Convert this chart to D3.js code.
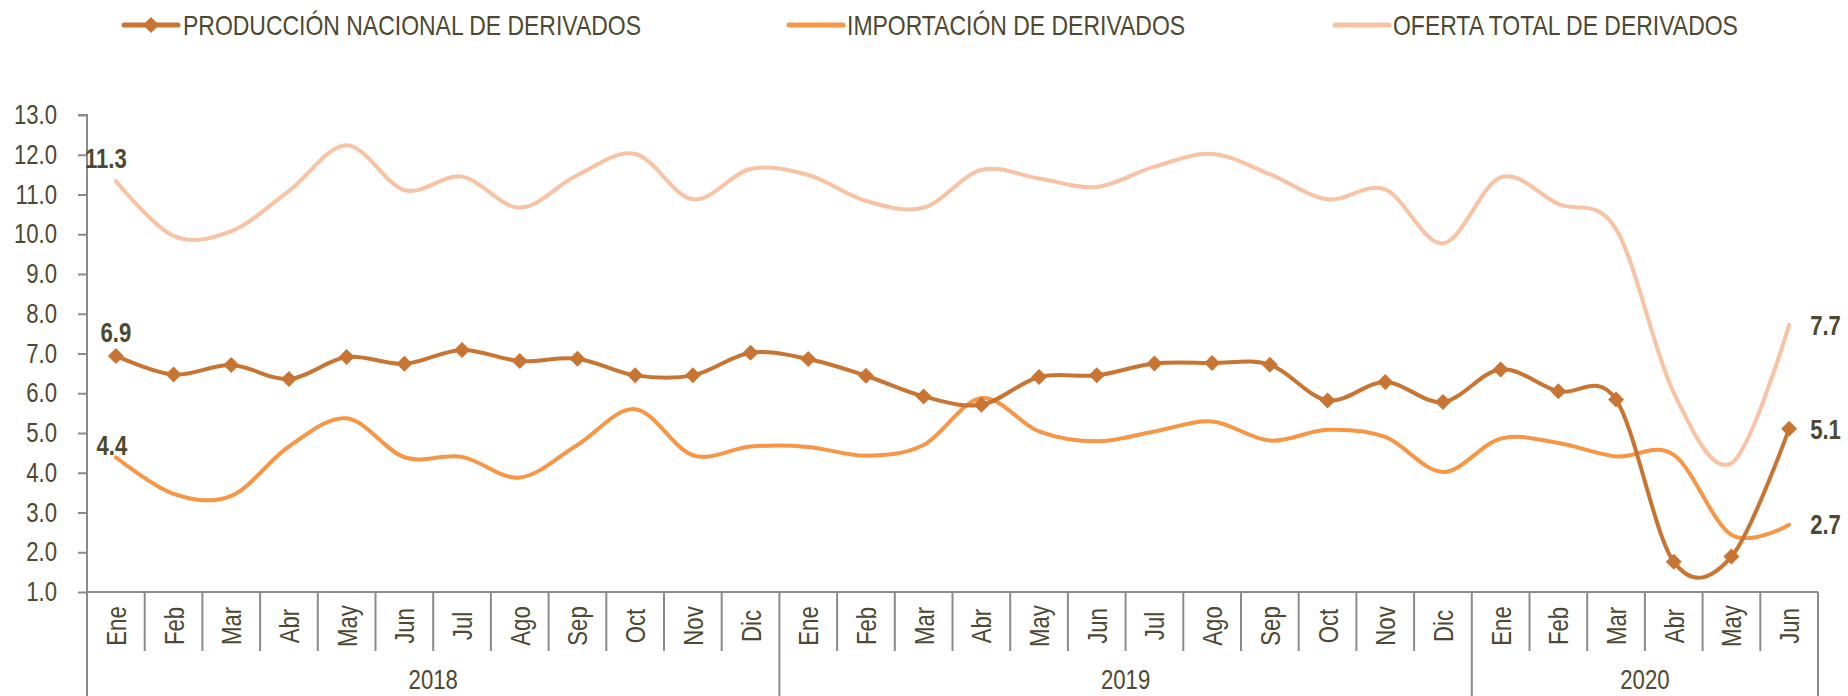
<!DOCTYPE html>
<html>
<head>
<meta charset="utf-8">
<script src="https://cdn.jsdelivr.net/npm/d3@7"></script>
<style>
  html, body { margin: 0; padding: 0; background: #ffffff; }
  svg { display: block; }
  text { font-family: "Liberation Sans Narrow", "Arial Narrow", "Liberation Sans", Arial, sans-serif; fill: #4d4831; }
</style>
</head>
<body>
<svg id="chart" width="1848" height="696"></svg>
<script>
// ---------------- DATA ----------------
const months = ["Ene","Feb","Mar","Abr","May","Jun","Jul","Ago","Sep","Oct","Nov","Dic",
                "Ene","Feb","Mar","Abr","May","Jun","Jul","Ago","Sep","Oct","Nov","Dic",
                "Ene","Feb","Mar","Abr","May","Jun"];
const years = ["2018","2019","2020"];
const monthsPerYear = [12, 12, 6];

const seriesNames = ["PRODUCCIÓN NACIONAL DE DERIVADOS", "IMPORTACIÓN DE DERIVADOS", "OFERTA TOTAL DE DERIVADOS"];

const produccion = [6.94, 6.47, 6.71, 6.36, 6.91, 6.74, 7.09, 6.81, 6.87, 6.45, 6.45, 7.02,
                    6.86, 6.44, 5.92, 5.71, 6.41, 6.45, 6.75, 6.76, 6.72, 5.82, 6.28, 5.78,
                    6.60, 6.05, 5.84, 1.76, 1.89, 5.11];
const importacion = [4.39, 3.47, 3.42, 4.66, 5.37, 4.39, 4.40, 3.88, 4.70, 5.60, 4.44, 4.66,
                     4.65, 4.43, 4.70, 5.88, 5.04, 4.79, 5.04, 5.29, 4.81, 5.08, 4.90, 4.02,
                     4.86, 4.75, 4.41, 4.45, 2.44, 2.69];
const oferta = [11.34, 9.96, 10.08, 11.09, 12.24, 11.11, 11.45, 10.67, 11.49, 12.02, 10.88, 11.64,
                11.49, 10.84, 10.67, 11.62, 11.40, 11.19, 11.70, 12.02, 11.51, 10.88, 11.13, 9.77,
                11.43, 10.76, 10.13, 6.01, 4.24, 7.72];

const yTicks = [1,2,3,4,5,6,7,8,9,10,11,12,13];

// ---------------- LAYOUT ----------------
const svg = d3.select("#chart");
const pLeft = 87, pRight = 1818, pTop = 115, pBottom = 592;
const axisColor = "#8b8b8b";
const textColor = "#4d4831";
const colors = ["#c87533", "#f79646", "#f8c2a4"];
const fontSize = 27;

const x = d3.scaleBand().domain(d3.range(months.length)).range([pLeft, pRight]).padding(0);
const y = d3.scaleLinear().domain([1, 13]).range([pBottom, pTop]);
const fmt = d3.format(".1f");

// Y axis
const yAxis = d3.axisLeft(y).tickValues(yTicks).tickFormat(fmt).tickSize(9).tickPadding(21);
const gy = svg.append("g").attr("transform", `translate(${pLeft},0)`).call(yAxis);
gy.select(".domain").attr("stroke", axisColor).attr("stroke-width", 2).attr("d", `M-9,${pTop}H0V${pBottom}`);
gy.selectAll(".tick line").attr("stroke", axisColor).attr("stroke-width", 2);
gy.selectAll(".tick text").attr("font-size", fontSize).attr("fill", textColor)
  .attr("font-family", '"Liberation Sans Narrow", "Arial Narrow", "Liberation Sans", sans-serif');

// X axis baseline
svg.append("line").attr("x1", pLeft).attr("x2", pRight).attr("y1", pBottom).attr("y2", pBottom)
  .attr("stroke", axisColor).attr("stroke-width", 2);

// month dividers & year dividers
const yearStarts = [];
let acc = 0;
monthsPerYear.forEach(n => { yearStarts.push(acc); acc += n; });
const boundaries = d3.range(months.length + 1);
svg.append("g").selectAll("line").data(boundaries).join("line")
  .attr("x1", i => i < months.length ? x(i) : pRight)
  .attr("x2", i => i < months.length ? x(i) : pRight)
  .attr("y1", pBottom)
  .attr("y2", i => (yearStarts.includes(i) || i === months.length) ? 696 : 651)
  .attr("stroke", axisColor).attr("stroke-width", 2);

// month labels
svg.append("g").selectAll("text").data(months).join("text")
  .attr("transform", (d, i) => `translate(${x(i) + x.bandwidth() / 2},626) rotate(-90)`)
  .attr("y", 10)
  .attr("text-anchor", "middle")
  .attr("font-size", fontSize)
  .attr("fill", textColor)
  .text(d => d);

// year labels
svg.append("g").selectAll("text").data(years).join("text")
  .attr("x", (d, i) => {
    const s = yearStarts[i], e = s + monthsPerYear[i];
    const x0 = x(s), x1 = e < months.length ? x(e) : pRight;
    return (x0 + x1) / 2;
  })
  .attr("y", 689)
  .attr("text-anchor", "middle")
  .attr("font-size", fontSize)
  .attr("fill", textColor)
  .text(d => d);

// ---------------- LINES ----------------
const cx = i => x(i) + x.bandwidth() / 2;
const line = d3.line().x((d, i) => cx(i)).y(d => y(d)).curve(d3.curveCardinal.tension(0));
const allSeries = [produccion, importacion, oferta];

[2, 1, 0].forEach(k => {
  svg.append("path").datum(allSeries[k])
    .attr("d", line)
    .attr("fill", "none")
    .attr("stroke", colors[k])
    .attr("stroke-width", 4)
    .attr("stroke-linejoin", "round")
    .attr("stroke-linecap", "round");
});

// diamond markers for produccion
const diamond = "M0,-8L8,0L0,8L-8,0Z";
svg.append("g").selectAll("path").data(produccion).join("path")
  .attr("transform", (d, i) => `translate(${cx(i)},${y(d)})`)
  .attr("d", diamond)
  .attr("fill", colors[0]);

// ---------------- DATA LABELS ----------------
const last = months.length - 1;
const labels = [
  { s: oferta, i: 0, dx: -10, dy: -13, anchor: "middle" },
  { s: produccion, i: 0, dx: 0, dy: -14, anchor: "middle" },
  { s: importacion, i: 0, dx: -4, dy: -2, anchor: "middle" },
  { s: oferta, i: last, dx: 21, dy: 10, anchor: "start" },
  { s: produccion, i: last, dx: 21, dy: 10, anchor: "start" },
  { s: importacion, i: last, dx: 21, dy: 9, anchor: "start" }
];
svg.append("g").selectAll("text").data(labels).join("text")
  .attr("x", d => cx(d.i) + d.dx)
  .attr("y", d => y(d.s[d.i]) + d.dy)
  .attr("text-anchor", d => d.anchor)
  .attr("font-size", fontSize)
  .attr("font-weight", "bold")
  .attr("fill", "#48432c")
  .text(d => fmt(d.s[d.i]));

// ---------------- LEGEND ----------------
const legendItems = [
  { x0: 124, x1: 178, tx: 183, marker: true },
  { x0: 789, x1: 843, tx: 847, marker: false },
  { x0: 1335, x1: 1389, tx: 1393, marker: false }
];
const lg = svg.append("g");
legendItems.forEach((it, k) => {
  lg.append("line").attr("x1", it.x0).attr("x2", it.x1).attr("y1", 25).attr("y2", 25)
    .attr("stroke", colors[k]).attr("stroke-width", 5).attr("stroke-linecap", "round");
  if (it.marker) {
    lg.append("path").attr("d", diamond).attr("transform", `translate(${(it.x0 + it.x1) / 2},25)`)
      .attr("fill", colors[k]);
  }
  lg.append("text").attr("x", it.tx).attr("y", 35).attr("font-size", 28).attr("fill", textColor)
    .text(seriesNames[k]);
});

// ---------------- NARROW TEXT ----------------
// The reference uses a narrow sans face; if no narrow face is installed,
// condense the regular face horizontally along each text's own direction.
(function condense() {
  const probe = svg.append("text").attr("font-size", 100)
    .attr("font-family", '"Liberation Sans Narrow", "Arial Narrow"').text("DERIVADOS");
  const wNarrow = probe.node().getComputedTextLength();
  probe.attr("font-family", '"Liberation Sans", Arial').text("DERIVADOS");
  const wRegular = probe.node().getComputedTextLength();
  probe.remove();
  if (wNarrow < wRegular * 0.95) return; // a real narrow face is available
  svg.selectAll("text").each(function () {
    const len = this.getComputedTextLength();
    d3.select(this).attr("textLength", (len * 0.82).toFixed(2)).attr("lengthAdjust", "spacingAndGlyphs");
  });
})();
</script>
</body>
</html>
